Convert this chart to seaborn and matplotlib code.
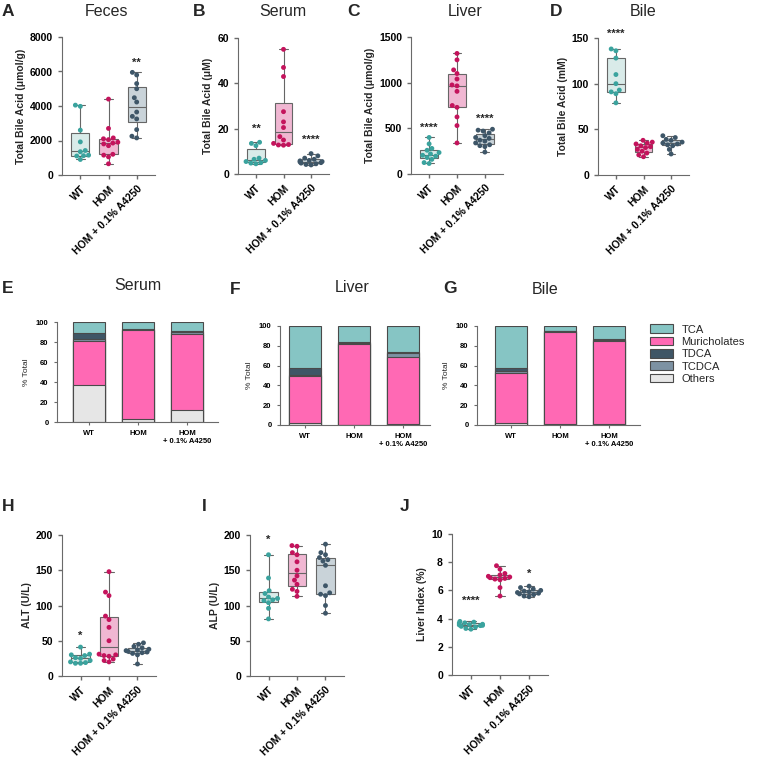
import numpy as np
import pandas as pd
import matplotlib
matplotlib.use('Agg')
import matplotlib.pyplot as plt
from matplotlib.patches import Patch
import seaborn as sns

groups = ['WT', 'HOM', 'HOM + 0.1% A4250']

# total bile acid, per animal
feces_wt = [4050, 3980, 2600, 1920, 1420, 1350, 1150, 1120, 1100, 900]
feces_hom = [4400, 2700, 2150, 2100, 2050, 1900, 1850, 1800, 1700, 1200, 1150, 1050, 650]
feces_a4250 = [5950, 5800, 5300, 5000, 4480, 4230, 3650, 3400, 3250, 2630, 2250, 2150]
serum_wt = [14, 13.5, 12.5, 7, 6.5, 6, 5.5, 5, 4.8, 4.5]
serum_hom = [55, 47, 43, 27.5, 23, 20.5, 16.5, 15, 13.5, 13, 12.8, 12.7]
serum_a4250 = [9, 8, 7, 6.5, 6, 5.8, 5.5, 5.3, 5, 4.8, 4.5, 4.2, 4]
liver_wt = [400, 330, 280, 260, 235, 220, 205, 195, 180, 160, 125, 115]
liver_hom = [1320, 1250, 1140, 1100, 1040, 975, 965, 905, 750, 730, 625, 530, 340]
liver_a4250 = [490, 480, 470, 450, 420, 400, 390, 370, 360, 340, 320, 310, 300, 240]
bile_wt = [138, 136, 128, 110, 100, 93, 91, 89, 79]
bile_hom = [38, 36, 35, 34, 32, 31, 30, 28, 26, 24, 22, 20]
bile_a4250 = [43, 41, 39, 38, 36, 35, 34, 33, 32, 28, 23]

# liver tests
alt_wt = [41, 31, 30, 29, 26, 25, 22, 20, 19, 18, 18]
alt_hom = [148, 119, 114, 85, 80, 69, 50, 31, 30, 29, 28, 24, 22, 20]
alt_a4250 = [47, 45, 42, 40, 38, 37, 36, 35, 34, 33, 32, 30, 17]
alp_wt = [172, 139, 121, 117, 112, 110, 108, 107, 104, 96, 81]
alp_hom = [185, 184, 175, 172, 162, 150, 142, 136, 130, 123, 120, 113]
alp_a4250 = [187, 175, 172, 168, 165, 163, 157, 128, 118, 116, 114, 100, 89]
lindex_wt = [3.8, 3.75, 3.7, 3.68, 3.6, 3.58, 3.55, 3.52, 3.5, 3.45, 3.4, 3.3, 3.25]
lindex_hom = [7.75, 7.5, 7.2, 7.1, 7.0, 6.95, 6.9, 6.85, 6.8, 6.75, 6.2, 5.6]
lindex_a4250 = [6.3, 6.2, 6.1, 6.0, 5.95, 5.9, 5.85, 5.8, 5.75, 5.7, 5.6, 5.55]

# significance marks: group -> (label, y)
feces_stars = {'HOM + 0.1% A4250': ('**', 6500)}
serum_stars = {'WT': ('**', 20), 'HOM + 0.1% A4250': ('****', 15)}
liver_stars = {'WT': ('****', 500), 'HOM + 0.1% A4250': ('****', 600)}
bile_stars = {'WT': ('****', 155)}
alt_stars = {'WT': ('*', 57)}
alp_stars = {'WT': ('*', 193)}
lindex_stars = {'WT': ('****', 5.25), 'HOM + 0.1% A4250': ('*', 7.2)}

# bile acid composition (% total), bottom to top
components = ['Others', 'Muricholates', 'TCDCA', 'TDCA', 'TCA']
serum_pct = {'Others': [37, 3, 12], 'Muricholates': [44, 89, 76], 'TCDCA': [2, 0.5, 2],
             'TDCA': [6, 0.8, 1], 'TCA': [11, 6.7, 9]}
liver_pct = {'Others': [2, 0.5, 1], 'Muricholates': [47, 81.5, 68], 'TCDCA': [2, 1, 4],
             'TDCA': [7, 1, 1], 'TCA': [42, 16, 26]}
bile_pct = {'Others': [2, 1, 1], 'Muricholates': [51, 93, 84], 'TCDCA': [2, 0.5, 1],
            'TDCA': [3, 0.5, 1], 'TCA': [42, 5, 13]}
stack_labels = ['WT', 'HOM', 'HOM\n+ 0.1% A4250']

box_fill = {'WT': '#D6EEEC', 'HOM': '#F9AED2', 'HOM + 0.1% A4250': '#C6D3DC'}
dot_col = {'WT': '#3AA39E', 'HOM': '#C4135C', 'HOM + 0.1% A4250': '#3E5668'}
comp_col = {'TCA': '#86C5C4', 'Muricholates': '#FF69B4', 'TDCA': '#3F5666',
            'TCDCA': '#7D92A3', 'Others': '#E6E6E6'}
spine_col = '#6a6a6a'

sns.set_style('ticks')
plt.rcParams['font.family'] = ['Liberation Sans', 'DejaVu Sans']
plt.rcParams['axes.edgecolor'] = spine_col
plt.rcParams['xtick.color'] = spine_col
plt.rcParams['ytick.color'] = spine_col
plt.rcParams['xtick.labelcolor'] = 'black'
plt.rcParams['ytick.labelcolor'] = 'black'

W, H = 765, 767
fig = plt.figure(figsize=(W / 100, H / 100), dpi=100)


def px_axes(l, r, t, b):
    return fig.add_axes([l / W, 1 - b / H, (r - l) / W, (b - t) / H])


def box_panel(ax, data, ylim, ystep, ylabel, stars):
    df = pd.DataFrame({'group': np.repeat(groups, [len(v) for v in data]),
                       'value': np.concatenate(data)})
    sns.boxplot(data=df, x='group', y='value', hue='group', order=groups, hue_order=groups,
                palette=box_fill, width=0.64, whis=(0, 100), linecolor='#666666',
                linewidth=0.8, legend=False, ax=ax)
    sns.swarmplot(data=df, x='group', y='value', hue='group', order=groups,
                  hue_order=groups, palette=dot_col, size=3.5, legend=False, ax=ax)
    for g, (txt, y) in stars.items():
        ax.text(groups.index(g), y, txt, ha='center', va='center', fontsize=8,
                fontweight='bold', clip_on=False)
    ax.set_ylim(*ylim)
    ax.set_yticks(np.arange(ylim[0], ylim[1] + ystep / 2, ystep))
    ax.set_xlim(-0.65, 2.65)
    ax.set_xlabel('')
    ax.set_ylabel(ylabel, fontsize=7.5, fontweight='bold', labelpad=3)
    ax.tick_params(axis='y', labelsize=7.5, length=3, width=1)
    ax.tick_params(axis='x', labelsize=7.5, length=3, width=1, rotation=45)
    for lab in ax.get_xticklabels() + ax.get_yticklabels():
        lab.set_fontweight('bold')
    for lab in ax.get_xticklabels():
        lab.set_ha('right')
        lab.set_rotation_mode('anchor')
    sns.despine(ax=ax)


def stack_panel(ax, pct, xlim):
    tops = np.cumsum([pct[c] for c in components], axis=0)
    # draw from the top layer down so each lower layer covers the previous one
    for i in range(len(components) - 1, -1, -1):
        sns.barplot(x=stack_labels, y=tops[i], color=comp_col[components[i]],
                    width=0.66, edgecolor='#4a4a4a', linewidth=0.8, saturation=1, ax=ax)
    ax.set_ylim(0, 100)
    ax.set_yticks(np.arange(0, 101, 20))
    ax.set_xlim(*xlim)
    ax.set_ylabel('% Total', fontsize=6, labelpad=4)
    ax.tick_params(axis='both', labelsize=5.5, length=2.5, width=0.8)
    for lab in ax.get_xticklabels() + ax.get_yticklabels():
        lab.set_fontweight('bold')
    sns.despine(ax=ax)


ax = px_axes(62, 155, 37, 175)
box_panel(ax, [feces_wt, feces_hom, feces_a4250], (0, 8000), 2000,
          'Total Bile Acid (μmol/g)', feces_stars)
ax = px_axes(238, 329, 38, 174)
box_panel(ax, [serum_wt, serum_hom, serum_a4250], (0, 60), 20,
          'Total Bile Acid (μM)', serum_stars)
ax = px_axes(411, 503, 37, 174)
box_panel(ax, [liver_wt, liver_hom, liver_a4250], (0, 1500), 500,
          'Total Bile Acid (μmol/g)', liver_stars)
ax = px_axes(598, 689, 38, 175)
box_panel(ax, [bile_wt, bile_hom, bile_a4250], (0, 150), 50,
          'Total Bile Acid (mM)', bile_stars)

ax = px_axes(57, 218, 322, 422)
stack_panel(ax, serum_pct, (-0.65, 2.63))
ax = px_axes(280, 430, 326, 425)
stack_panel(ax, liver_pct, (-0.51, 2.55))
ax = px_axes(477, 640, 326, 425)
stack_panel(ax, bile_pct, (-0.69, 2.63))

handles = [Patch(facecolor=comp_col[c], edgecolor='#4a4a4a', linewidth=0.8, label=c)
           for c in ['TCA', 'Muricholates', 'TDCA', 'TCDCA', 'Others']]
fig.legend(handles=handles, loc='upper left', bbox_to_anchor=(646 / W, 1 - 320 / H),
           frameon=False, fontsize=8, handlelength=2.0, handleheight=0.8,
           labelspacing=0.2, handletextpad=0.8, borderaxespad=0)

ax = px_axes(62, 156, 535, 676)
box_panel(ax, [alt_wt, alt_hom, alt_a4250], (0, 200), 50, 'ALT (U/L)', alt_stars)
ax = px_axes(250, 344, 535, 676)
box_panel(ax, [alp_wt, alp_hom, alp_a4250], (0, 200), 50, 'ALP (U/L)', alp_stars)
ax = px_axes(452, 548, 534, 675)
box_panel(ax, [lindex_wt, lindex_hom, lindex_a4250], (0, 10), 2, 'Liver Index (%)',
          lindex_stars)

# panel titles and letters
for txt, x, y in [('Feces', 107, 11), ('Serum', 283, 11), ('Liver', 465, 11),
                  ('Bile', 643, 11), ('Serum', 138, 285), ('Liver', 352, 287),
                  ('Bile', 545, 290)]:
    fig.text(x / W, 1 - y / H, txt, ha='center', va='center', fontsize=11.5)
for txt, x, y in [('A', 2, 12), ('B', 193, 12), ('C', 347, 12), ('D', 550, 12),
                  ('E', 2, 289), ('F', 230, 290), ('G', 443, 288),
                  ('H', 2, 506), ('I', 202, 506), ('J', 400, 506)]:
    fig.text(x / W, 1 - y / H, txt, ha='left', va='center', fontsize=12.5,
             fontweight='bold')

fig.savefig('out.png', dpi=100)
